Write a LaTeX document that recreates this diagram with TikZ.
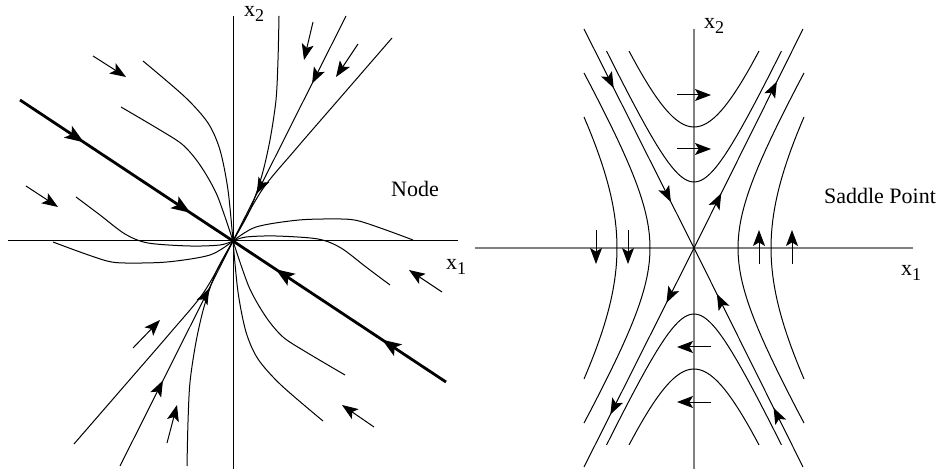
\documentclass[tikz,border=0pt]{standalone}
\usepackage{fontspec}
\setmainfont{Liberation Serif}
\usetikzlibrary{arrows.meta,decorations.markings}
\tikzset{
  >={Stealth[length=8pt,width=6pt,inset=1.8pt]},
  orbit/.style={line width=0.5pt},
  eig/.style={line width=1.4pt, >={Stealth[length=9.5pt,width=7pt,inset=2.2pt]}},
  ax/.style={line width=0.5pt},
  gax/.style={draw=black!50, line width=0.9pt},
  flow/.style={line width=0.5pt, ->},
  twoarr/.style 2 args={postaction={decorate}, decoration={markings,
      mark=at position #1 with {\arrow{>}},
      mark=at position #2 with {\arrow{>}}}},
  lbl/.style={font=\fontsize{11}{13}\selectfont, inner sep=0pt}
}
\newcommand{\xsub}[1]{x\raisebox{-0.45ex}{\fontsize{9}{10}\selectfont #1}}

\begin{document}
\begin{tikzpicture}[x=0.5pt, y=-0.5pt]
  \useasboundingbox (0,0) rectangle (940,469);

  % node
  \coordinate (O) at (233,241);
  \draw[ax] (8,241) -- (458,241);
  \draw[ax] (233,16) -- (233,469);
  \node[lbl] (xtwoL) at (254,14) {\xsub{2}};
  \node[lbl] (xoneL) at (456,267) {\xsub{1}};
  \node[lbl] (nodeL) at (415,189) {Node};

  \foreach \r/\p in {0/0.30, 180/0.38} {
    \begin{scope}[rotate around={\r:(O)}]
      \draw[orbit] plot[smooth] coordinates {(143,61) (185,97) (208,123) (220,150) (228,190) (233,241)};
      \draw[orbit] plot[smooth] coordinates {(121,107) (160,130) (183,145) (200,165) (217,195) (233,241)};
      \draw[orbit] plot[smooth] coordinates {(76,197) (100,215) (125,234) (148,243) (190,246) (220,245) (233,241)};
      \draw[orbit] plot[smooth] coordinates {(53,242) (80,252) (107,261) (125,263) (167,262) (210,255) (233,241)};
      \draw[orbit] plot[smooth] coordinates {(279,16) (278,60) (276,100) (270,140) (262,175) (250,210) (233,241)};
      \draw[orbit] plot[smooth] coordinates {(392,38) (340,98) (295,150) (262,190) (233,241)};
      \draw[orbit, twoarr={\p}{0.79}] (346,16) -- (O);
      \draw[eig, twoarr={0.30}{0.80}] (20,100) -- (O);
    \end{scope}
  }

  \draw[flow] (93,56) -- (126,77);
  \draw[flow] (26,186) -- (58,207);
  \draw[flow] (313,22) -- (304,60);
  \draw[flow] (358,44) -- (336,77);
  \draw[flow] (442,292) -- (409,270);
  \draw[flow] (374,427) -- (342,405);
  \draw[flow] (133,348) -- (160,320);
  \draw[flow] (167,443) -- (177,405);

  % saddle point
  \coordinate (S) at (694,248);
  \draw[gax] (475,248) -- (913,248);
  \draw[gax] (694,29) -- (694,469);
  \node[lbl] (xtwoR) at (714,26) {\xsub{2}};
  \node[lbl] (xoneR) at (911,273) {\xsub{1}};
  \node[lbl] (saddleR) at (880,196) {Saddle Point};

  \draw[orbit, twoarr={0.27}{0.79}] (584,29) -- (S);
  \draw[orbit, twoarr={0.27}{0.79}] (803,467) -- (S);
  \draw[orbit, twoarr={0.25}{0.76}] (S) -- (803,29);
  \draw[orbit, twoarr={0.25}{0.76}] (S) -- (584,467);

  \foreach \pa/\pb/\pT in {121/50.6/1.069, 66/31.1/1.757} {
    \draw[orbit] plot[domain=-\pT:\pT, samples=40] ({694+\pb*sinh(\x)}, {248-\pa*cosh(\x)});
    \draw[orbit] plot[domain=-\pT:\pT, samples=40] ({694+\pb*sinh(\x)}, {248+\pa*cosh(\x)});
  }
  \foreach \pa/\pb/\pT in {44/76.4/1.567, 77/128.4/0.8956} {
    \draw[orbit] plot[domain=-\pT:\pT, samples=40] ({694-\pa*cosh(\x)}, {248+\pb*sinh(\x)});
    \draw[orbit] plot[domain=-\pT:\pT, samples=40] ({694+\pa*cosh(\x)}, {248+\pb*sinh(\x)});
  }

  \draw[flow] (677,95) -- (711,95);
  \draw[flow] (677,149) -- (711,149);
  \draw[flow] (711,347) -- (677,347);
  \draw[flow] (711,402) -- (677,402);
  \draw[flow] (596,230) -- (596,264);
  \draw[flow] (628,230) -- (628,264);
  \draw[flow] (759,264) -- (759,230);
  \draw[flow] (792,264) -- (792,230);
\end{tikzpicture}
\end{document}
